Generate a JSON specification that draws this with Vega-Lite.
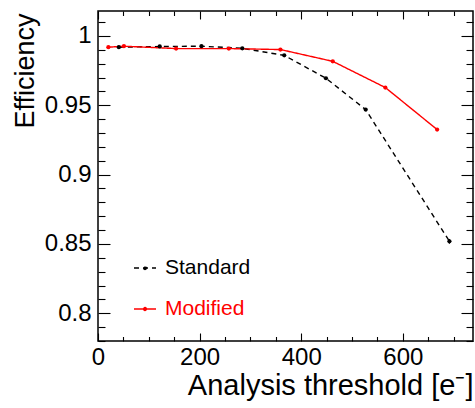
{
  "$schema": "https://vega.github.io/schema/vega-lite/v6.json",
  "width": 375,
  "height": 330,
  "autosize": {"type": "none"},
  "padding": {"left": 98, "top": 11, "right": 2, "bottom": 67},
  "background": "white",
  "config": {
    "view": {"stroke": "black", "strokeWidth": 1.5},
    "font": "Liberation Sans",
    "axis": {"labelFont": "Liberation Sans", "titleFont": "Liberation Sans", "labelColor": "black", "titleColor": "black", "tickColor": "black", "tickWidth": 1.1, "grid": false, "domain": false}
  },
  "data": {
    "values": [
      {"series": "Standard", "threshold": 41, "eff": 0.9919},
      {"series": "Standard", "threshold": 121.5, "eff": 0.9924},
      {"series": "Standard", "threshold": 203.6, "eff": 0.9926},
      {"series": "Standard", "threshold": 284, "eff": 0.9911},
      {"series": "Standard", "threshold": 366.5, "eff": 0.986},
      {"series": "Standard", "threshold": 448.6, "eff": 0.9695},
      {"series": "Standard", "threshold": 526.8, "eff": 0.9469},
      {"series": "Standard", "threshold": 691.6, "eff": 0.8519, "lo": 0.8502, "hi": 0.8536},
      {"series": "Modified", "threshold": 20.4, "eff": 0.9919},
      {"series": "Modified", "threshold": 51, "eff": 0.9926},
      {"series": "Modified", "threshold": 153.7, "eff": 0.9909},
      {"series": "Modified", "threshold": 257.5, "eff": 0.9909},
      {"series": "Modified", "threshold": 359, "eff": 0.9902},
      {"series": "Modified", "threshold": 462, "eff": 0.9817},
      {"series": "Modified", "threshold": 565.5, "eff": 0.9628},
      {"series": "Modified", "threshold": 667.4, "eff": 0.9325}
    ]
  },
  "layer": [
    {
      "mark": {"type": "line", "strokeWidth": 1.4},
      "encoding": {
        "x": {"field": "threshold", "type": "quantitative", "scale": {"domain": [0, 738], "nice": false, "zero": false},
          "axis": {"orient": "bottom", "values": [0, 200, 400, 600], "format": "d", "ticks": false, "labelFontSize": 24, "labelPadding": 4, "labelFlush": false,
            "title": "Analysis threshold [e⁻]", "titleFontSize": 29, "titleFontWeight": "normal", "titleAlign": "right", "titleAnchor": "end", "titleX": 375, "titleY": 53, "titleBaseline": "alphabetic"}},
        "y": {"field": "eff", "type": "quantitative", "scale": {"domain": [0.78, 1.018], "nice": false, "zero": false},
          "axis": {"orient": "left", "values": [0.8, 0.85, 0.9, 0.95, 1], "format": "~g", "ticks": false, "labelFontSize": 24, "labelPadding": 7, "labelFlush": false,
            "title": "Efficiency", "titleFontSize": 27, "titleFontWeight": "normal", "titleAngle": 270, "titleAlign": "right", "titleBaseline": "alphabetic", "titleX": -65, "titleY": 2}},
        "color": {"field": "series", "type": "nominal", "scale": {"domain": ["Standard", "Modified"], "range": ["black", "#ff0000"]},
          "legend": {"orient": "none", "legendX": 35, "legendY": 245, "title": null, "padding": 0,
            "symbolType": "M-1,0H1M-0.13,0A0.13,0.13,0,1,0,0.13,0A0.13,0.13,0,1,0,-0.13,0Z", "symbolSize": 484, "symbolStrokeWidth": 1.4,
            "labelFontSize": 21, "labelFont": "Liberation Sans", "labelOffset": 8, "rowPadding": 19,
            "encode": {"labels": {"update": {"fill": {"scale": "color", "field": "value"}}}, "symbols": {"update": {"fill": {"scale": "color", "field": "value"}}}}}},
        "strokeDash": {"field": "series", "type": "nominal", "scale": {"domain": ["Standard", "Modified"], "range": [[5, 4], [1, 0]]},
          "legend": {"orient": "none", "legendX": 35, "legendY": 245, "title": null, "padding": 0,
            "symbolType": "M-1,0H1M-0.13,0A0.13,0.13,0,1,0,0.13,0A0.13,0.13,0,1,0,-0.13,0Z", "symbolSize": 484, "symbolStrokeWidth": 1.4,
            "labelFontSize": 21, "labelFont": "Liberation Sans", "labelOffset": 8, "rowPadding": 19,
            "encode": {"labels": {"update": {"fill": {"scale": "color", "field": "value"}}}, "symbols": {"update": {"fill": {"scale": "color", "field": "value"}}}}}}
      }
    },
    {
      "mark": {"type": "point", "filled": true, "size": 18, "opacity": 1},
      "encoding": {
        "x": {"field": "threshold", "type": "quantitative", "scale": {"domain": [0, 738], "nice": false, "zero": false}, "axis": null},
        "y": {"field": "eff", "type": "quantitative", "scale": {"domain": [0.78, 1.018], "nice": false, "zero": false}, "axis": null},
        "fill": {"field": "series", "type": "nominal", "scale": {"domain": ["Standard", "Modified"], "range": ["black", "#ff0000"]}, "legend": null}
      }
    },
    {
      "mark": {"type": "rule", "color": "black", "strokeWidth": 1.2},
      "encoding": {
        "x": {"field": "threshold", "type": "quantitative", "scale": {"domain": [0, 738], "nice": false, "zero": false}, "axis": null},
        "y": {"field": "lo", "type": "quantitative", "scale": {"domain": [0.78, 1.018], "nice": false, "zero": false}, "axis": null},
        "y2": {"field": "hi"}
      }
    },
    {
      "mark": {"type": "point", "opacity": 0},
      "encoding": {
        "x": {"field": "threshold", "type": "quantitative", "scale": {"domain": [0, 738], "nice": false, "zero": false},
          "axis": {"orient": "bottom", "values": [0, 200, 400, 600], "labels": false, "ticks": true, "tickSize": -8, "title": null}},
        "y": {"field": "eff", "type": "quantitative", "scale": {"domain": [0.78, 1.018], "nice": false, "zero": false},
          "axis": {"orient": "left", "values": [0.8, 0.85, 0.9, 0.95, 1], "labels": false, "ticks": true, "tickSize": -12, "title": null}}
      }
    },
    {
      "mark": {"type": "point", "opacity": 0},
      "encoding": {
        "x": {"field": "threshold", "type": "quantitative", "scale": {"domain": [0, 738], "nice": false, "zero": false},
          "axis": {"orient": "bottom", "values": [50, 100, 150, 250, 300, 350, 450, 500, 550, 650, 700], "labels": false, "ticks": true, "tickSize": -4.5, "title": null}},
        "y": {"field": "eff", "type": "quantitative", "scale": {"domain": [0.78, 1.018], "nice": false, "zero": false},
          "axis": {"orient": "left", "values": [0.78, 0.79, 0.81, 0.82, 0.83, 0.84, 0.86, 0.87, 0.88, 0.89, 0.91, 0.92, 0.93, 0.94, 0.96, 0.97, 0.98, 0.99, 1.01], "labels": false, "ticks": true, "tickSize": -7, "title": null}}
      }
    },
    {
      "mark": {"type": "point", "opacity": 0},
      "encoding": {
        "x": {"field": "threshold", "type": "quantitative", "scale": {"domain": [0, 738], "nice": false, "zero": false},
          "axis": {"orient": "top", "values": [0, 200, 400, 600], "labels": false, "ticks": true, "tickSize": -8, "title": null}},
        "y": {"field": "eff", "type": "quantitative", "scale": {"domain": [0.78, 1.018], "nice": false, "zero": false},
          "axis": {"orient": "right", "values": [0.8, 0.85, 0.9, 0.95, 1], "labels": false, "ticks": true, "tickSize": -12, "title": null}}
      }
    },
    {
      "mark": {"type": "point", "opacity": 0},
      "encoding": {
        "x": {"field": "threshold", "type": "quantitative", "scale": {"domain": [0, 738], "nice": false, "zero": false},
          "axis": {"orient": "top", "values": [50, 100, 150, 250, 300, 350, 450, 500, 550, 650, 700], "labels": false, "ticks": true, "tickSize": -4.5, "title": null}},
        "y": {"field": "eff", "type": "quantitative", "scale": {"domain": [0.78, 1.018], "nice": false, "zero": false},
          "axis": {"orient": "right", "values": [0.78, 0.79, 0.81, 0.82, 0.83, 0.84, 0.86, 0.87, 0.88, 0.89, 0.91, 0.92, 0.93, 0.94, 0.96, 0.97, 0.98, 0.99, 1.01], "labels": false, "ticks": true, "tickSize": -7, "title": null}}
      }
    }
  ],
  "resolve": {"axis": {"x": "independent", "y": "independent"}}
}
